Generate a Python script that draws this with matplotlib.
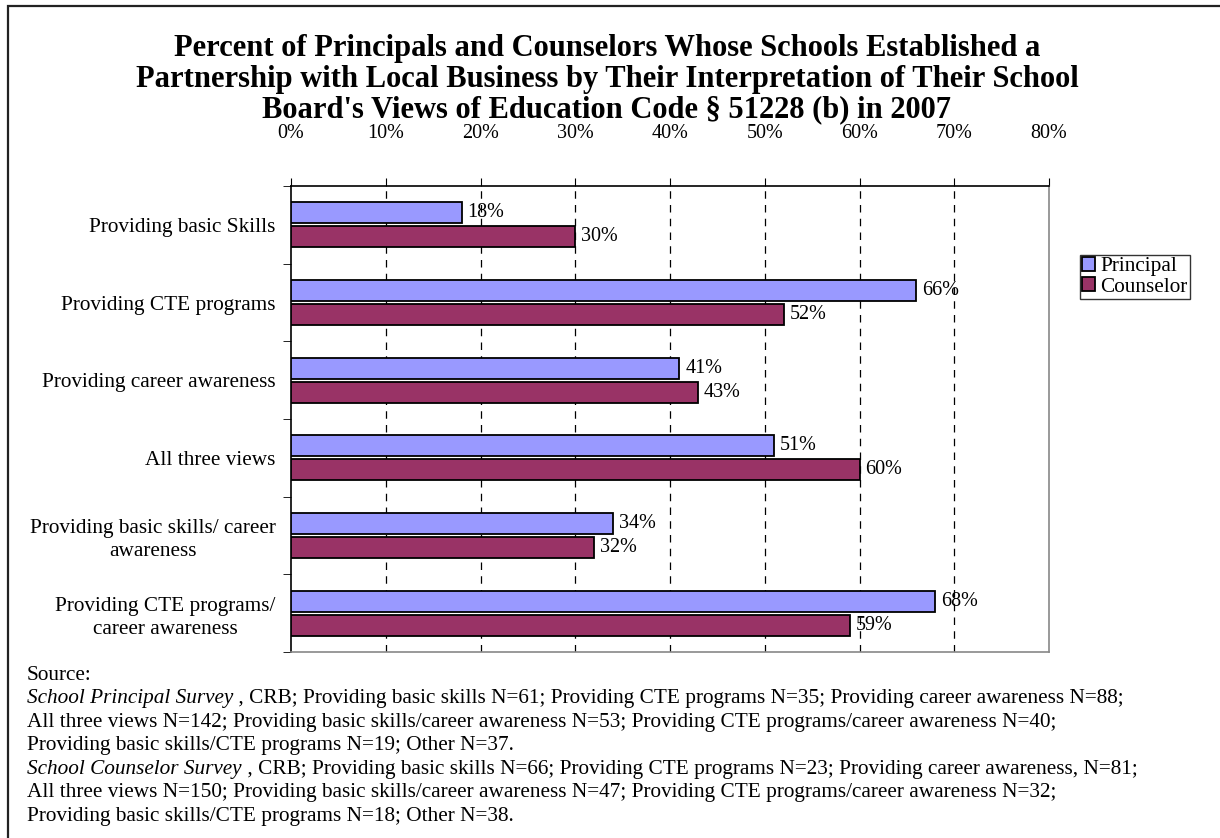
import matplotlib.pyplot as plt
import matplotlib.patches as mpatches
import numpy as np

plt.rcParams['font.family'] = ['Liberation Serif', 'DejaVu Serif']

# survey results, percent of respondents
categories = ['Providing basic Skills', 'Providing CTE programs', 'Providing career awareness',
              'All three views', 'Providing basic skills/ career\nawareness',
              'Providing CTE programs/\ncareer awareness']
principal = [18, 66, 41, 51, 34, 68]
counselor = [30, 52, 43, 60, 32, 59]
xticks = [0, 10, 20, 30, 40, 50, 60, 70, 80]

title = ("Percent of Principals and Counselors Whose Schools Established a\n"
         "Partnership with Local Business by Their Interpretation of Their School\n"
         "Board's Views of Education Code \u00a7 51228 (b) in 2007")

source_lines = [
    ('', 'Source:'),
    ('School Principal Survey', ' , CRB; Providing basic skills N=61; Providing CTE programs N=35; Providing career awareness N=88;'),
    ('', 'All three views N=142; Providing basic skills/career awareness N=53; Providing CTE programs/career awareness N=40;'),
    ('', 'Providing basic skills/CTE programs N=19; Other N=37.'),
    ('School Counselor Survey', ' , CRB; Providing basic skills N=66; Providing CTE programs N=23; Providing career awareness, N=81;'),
    ('', 'All three views N=150; Providing basic skills/career awareness N=47; Providing CTE programs/career awareness N=32;'),
    ('', 'Providing basic skills/CTE programs N=18; Other N=38.'),
]

W, H = 1220, 838
fig = plt.figure(figsize=(W / 100, H / 100), dpi=100)

# chart-area border (runs off the right/bottom edge)
fig.patches.append(mpatches.Rectangle((8 / W, -0.05), 1.2, 1 - 6 / H + 0.05,
                                      transform=fig.transFigure, fill=False,
                                      edgecolor='#222222', linewidth=1.6))

ax = fig.add_axes([291 / W, 1 - 652 / H, 758 / W, 466 / H])

y = np.arange(len(categories))
h = 0.27
off = 0.155
b1 = ax.barh(y - off, principal, height=h, color='#9999ff', edgecolor='black', linewidth=1.3,
             label='Principal', zorder=3)
b2 = ax.barh(y + off, counselor, height=h, color='#993366', edgecolor='black', linewidth=1.3,
             label='Counselor', zorder=3)

for bars, vals in ((b1, principal), (b2, counselor)):
    for bar, v in zip(bars, vals):
        ax.text(v + 0.6, bar.get_y() + bar.get_height() / 2, f'{v}%', va='center', ha='left',
                fontsize=14.5, zorder=4)

ax.set_xlim(0, 80)
ax.set_ylim(len(categories) - 0.5, -0.5)

ax.xaxis.tick_top()
ax.set_xticks(xticks)
ax.set_xticklabels([f'{t}%' for t in xticks], fontsize=14.5)
ax.tick_params(axis='x', direction='out', length=6, pad=25, color='black')

ax.set_yticks(y)
ax.set_yticklabels(categories, fontsize=15.3, multialignment='center', linespacing=1.3)
ax.set_yticks(np.arange(len(categories) + 1) - 0.5, minor=True)
ax.tick_params(axis='y', which='major', length=0, pad=11)
ax.tick_params(axis='y', which='minor', length=6, direction='out')

for t in xticks[1:-1]:
    ax.axvline(t, color='black', linestyle=(0, (6, 5)), linewidth=0.9, zorder=1)

ax.spines['top'].set_color('black')
ax.spines['left'].set_color('black')
ax.spines['right'].set_color('#888888')
ax.spines['bottom'].set_color('#888888')
for s in ax.spines.values():
    s.set_linewidth(1.2)

leg = fig.legend(handles=[b1, b2], loc='upper left', bbox_to_anchor=(1080 / W, 1 - 255 / H),
                 fontsize=15.3, frameon=True, fancybox=False, edgecolor='black',
                 handlelength=0.6, handleheight=0.6, handletextpad=0.25,
                 borderpad=0.1, labelspacing=0.05, borderaxespad=0)
leg.get_frame().set_linewidth(1.0)

fig.text(607 / W, 1 - 34 / H, title, ha='center', va='top', fontsize=22, fontweight='bold',
         linespacing=1.08)

# source notes, italic survey names followed by plain text
y0 = 675
for i, (ital, rest) in enumerate(source_lines):
    ypos = 1 - (y0 + i * 23.5) / H
    if ital:
        t1 = fig.text(27 / W, ypos, ital, ha='left', va='center', fontsize=15.3, style='italic')
        fig.add_artist(plt.Annotation(rest, xy=(1, 0), xycoords=t1, ha='left', va='bottom',
                                      fontsize=15.3))
    else:
        fig.text(27 / W, ypos, rest, ha='left', va='center', fontsize=15.3)

fig.savefig('out.png', dpi=100)
